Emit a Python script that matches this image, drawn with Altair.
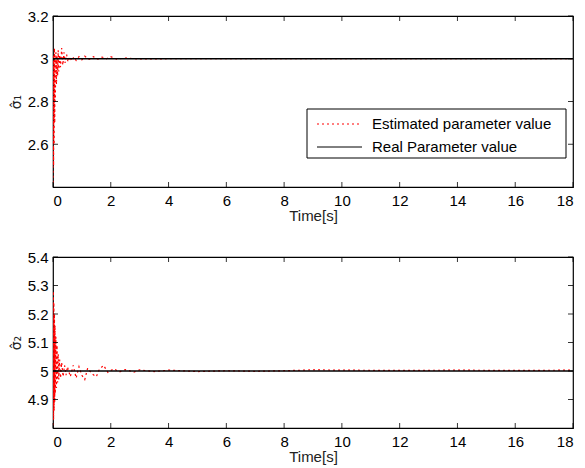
import altair as alt
import pandas as pd

time_ticks = [0, 2, 4, 6, 8, 10, 12, 14, 16, 18]
y1_ticks = [2.6, 2.8, 3.0, 3.2]
y2_ticks = [4.9, 5.0, 5.1, 5.2, 5.3, 5.4]
legend_labels = ["Estimated parameter value", "Real Parameter value"]

t1 = [0.00, 0.01, 0.02, 0.03, 0.04, 0.05, 0.06, 0.07, 0.08, 0.10, 0.12, 0.14,
      0.16, 0.18, 0.20, 0.23, 0.26, 0.30, 0.34, 0.38, 0.42, 0.47, 0.52, 0.58,
      0.65, 0.72, 0.80, 0.90, 1.00, 1.10, 1.25, 1.40, 1.55, 1.70, 1.85, 2.00,
      2.20, 2.50, 3.00, 4.0, 6.0, 8.0, 10.0, 12.0, 14.0, 16.0, 18.0]
est1 = [2.42, 3.02, 2.50, 2.98, 2.60, 3.05, 2.70, 3.00, 2.80, 3.03, 2.88, 3.01,
        2.92, 3.04, 2.94, 3.02, 2.96, 3.05, 2.97, 3.03, 2.98, 3.02, 2.985, 3.01,
        2.99, 3.008, 2.992, 3.01, 2.995, 3.012, 2.997, 3.01, 2.998, 3.008, 3.0,
        3.01, 2.998, 3.003, 2.999, 3.0, 3.0, 3.0, 3.0, 3.0, 3.0, 3.0, 3.0]

t2 = [0.00, 0.01, 0.02, 0.03, 0.04, 0.05, 0.06, 0.07, 0.08, 0.10, 0.12, 0.14,
      0.16, 0.18, 0.20, 0.23, 0.26, 0.30, 0.35, 0.40, 0.45, 0.50, 0.60, 0.70,
      0.80, 0.90, 1.00, 1.10, 1.20, 1.35, 1.50, 1.60, 1.75, 1.90, 2.10, 2.30,
      2.50, 2.80, 3.00, 3.50, 4.0, 5.0, 6.0, 7.0, 8.0, 9.0, 10.0, 12.0, 14.0,
      16.0, 18.0]
est2 = [4.81, 5.28, 4.83, 5.24, 4.86, 5.20, 4.89, 5.16, 4.92, 5.12, 4.94, 5.09,
        4.96, 5.06, 4.97, 5.04, 4.975, 5.03, 4.98, 5.02, 4.985, 5.015, 4.98, 5.02,
        4.975, 5.015, 4.985, 4.97, 5.01, 4.99, 4.98, 5.005, 5.02, 4.995, 5.008,
        4.997, 5.005, 4.996, 5.004, 4.998, 5.003, 4.998, 5.001, 4.999, 5.001,
        5.004, 5.003, 5.002, 5.003, 5.002, 5.003]

real1 = 3.0
real2 = 5.0

W, H = 520, 171
FONT = "Liberation Sans"
EST_DASH = [2, 3]


def legend_layers():
    box = alt.Chart(pd.DataFrame({"s": ["box"]})).mark_rect(
        fill="white", stroke="black", strokeWidth=1).encode(
        x=alt.value(254), x2=alt.value(513), y=alt.value(93), y2=alt.value(142))
    sym1 = alt.Chart(pd.DataFrame({"s": [legend_labels[0]]})).mark_rule(
        color="red", strokeWidth=1.2, strokeDash=EST_DASH).encode(
        x=alt.value(264), x2=alt.value(309), y=alt.value(108))
    sym2 = alt.Chart(pd.DataFrame({"s": [legend_labels[1]]})).mark_rule(
        color="black", strokeWidth=1).encode(
        x=alt.value(264), x2=alt.value(309), y=alt.value(131))
    txt1 = alt.Chart(pd.DataFrame({"s": [legend_labels[0]]})).mark_text(
        font=FONT, fontSize=15, align="left", baseline="middle", color="black").encode(
        text="s:N", x=alt.value(319), y=alt.value(108))
    txt2 = alt.Chart(pd.DataFrame({"s": [legend_labels[1]]})).mark_text(
        font=FONT, fontSize=15, align="left", baseline="middle", color="black").encode(
        text="s:N", x=alt.value(319), y=alt.value(131))
    return [box, sym1, sym2, txt1, txt2]


def panel(t, est, real, ydom, yticks, ytitle, show_legend):
    est_df = pd.DataFrame({"t": t, "v": est})
    real_df = pd.DataFrame({"t": [0, 18], "v": [real, real]})
    xt_df = pd.DataFrame({"t": time_ticks})
    yt_df = pd.DataFrame({"v": yticks})

    xs = alt.Scale(domain=[0, 18], nice=False)
    ys = alt.Scale(domain=ydom, nice=False, zero=False)
    xa = alt.Axis(values=time_ticks, title="Time[s]", ticks=False,
                  domain=False, grid=False, labelPadding=6,
                  titlePadding=0, format="d", labelOverlap=False)
    ya = alt.Axis(values=yticks, title=ytitle, ticks=False,
                  domain=False, grid=False, labelPadding=5,
                  titlePadding=4, format="~g", labelOverlap=False,
                  labelSeparation=0, titleFont="DejaVu Sans",
                  titleFontSize=14)
    x = alt.X("t:Q", scale=xs, axis=xa)
    y = alt.Y("v:Q", scale=ys, axis=ya)

    est_line = alt.Chart(est_df).mark_line(
        strokeWidth=1.2, clip=True, color="red", strokeDash=EST_DASH).encode(
        x=x, y=y, order="t:Q")
    real_line = alt.Chart(real_df).mark_line(
        strokeWidth=1.4, clip=True, color="black").encode(x=x, y=y)

    xtick_b = alt.Chart(xt_df).mark_rule(color="black", strokeWidth=0.8).encode(
        x=x, y=alt.value(H), y2=alt.value(H - 5))
    xtick_t = alt.Chart(xt_df).mark_rule(color="black", strokeWidth=0.8).encode(
        x=x, y=alt.value(0), y2=alt.value(5))
    ytick_l = alt.Chart(yt_df).mark_rule(color="black", strokeWidth=0.8).encode(
        y=y, x=alt.value(0), x2=alt.value(5))
    ytick_r = alt.Chart(yt_df).mark_rule(color="black", strokeWidth=0.8).encode(
        y=y, x=alt.value(W), x2=alt.value(W - 5))

    layers = [est_line, real_line, xtick_b, xtick_t, ytick_l, ytick_r]
    if show_legend:
        layers += legend_layers()
    return alt.layer(*layers).properties(width=W, height=H)


top = panel(t1, est1, real1, [2.4, 3.2], y1_ticks, "σ̂₁", True)
bottom = panel(t2, est2, real2, [4.8, 5.4], y2_ticks, "σ̂₂", False)

chart = alt.vconcat(top, bottom, spacing=25).properties(
    padding={"left": 0, "top": 0, "right": 0, "bottom": 0},
    background="white",
).configure_view(
    stroke="black", strokeWidth=1.2
).configure_axis(
    labelFont=FONT, titleFont=FONT, labelFontSize=15, titleFontSize=15,
    labelColor="black", titleColor="#222222", titleFontWeight="normal"
)

chart.save("out.html", embed_options={"renderer": "svg", "actions": False})
